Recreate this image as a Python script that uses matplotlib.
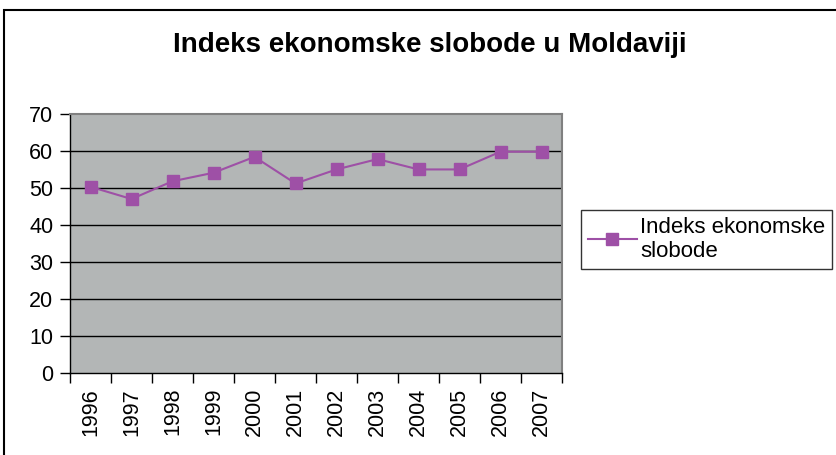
import matplotlib
matplotlib.use('Agg')
import matplotlib.pyplot as plt
from matplotlib.patches import Rectangle
import numpy as np

# ---------------- DATA ----------------
YEARS = ['1996', '1997', '1998', '1999', '2000', '2001',
         '2002', '2003', '2004', '2005', '2006', '2007']
INDEX = [50.3, 47.0, 51.8, 54.1, 58.4, 51.2, 55.0, 57.8, 55.0, 55.0, 59.8, 59.8]
TITLE = 'Indeks ekonomske slobode u Moldaviji'
LEGEND_LABEL = 'Indeks ekonomske\nslobode'

W, H = 836, 455
plt.rcParams['font.family'] = ['Liberation Sans', 'DejaVu Sans']
fig = plt.figure(figsize=(W / 100, H / 100), dpi=100)

# outer chart frame (cut off at right and bottom)
fig.patches.append(Rectangle((4 / W, -0.1), 1.2, 1 - 10 / H + 0.1, transform=fig.transFigure,
                             fill=False, edgecolor='black', linewidth=1.5, clip_on=False))

ax = fig.add_axes([70 / W, 1 - 372.7 / H, (562 - 70) / W, (372.7 - 114) / H])
ax.set_facecolor('#b3b6b6')
x = np.arange(len(YEARS))

ax.set_ylim(0, 70)
ax.set_xlim(-0.5, len(YEARS) - 0.5)
ax.set_yticks(np.arange(0, 71, 10))
ax.tick_params(axis='y', labelsize=15.5, length=7, width=1, direction='out', pad=5)
for yy in range(10, 70, 10):
    ax.axhline(yy, color='black', lw=1, zorder=1)

# ticks at category borders, labels centred
ax.set_xticks(np.arange(-0.5, len(YEARS), 1))
ax.set_xticklabels([])
ax.tick_params(axis='x', which='major', length=7, width=1, direction='out')
ax.set_xticks(x, minor=True)
ax.set_xticklabels(YEARS, minor=True, rotation=90, fontsize=15.5)
ax.tick_params(axis='x', which='minor', length=0, pad=11)

for s in ['top', 'right']:
    ax.spines[s].set_color('#808080')
    ax.spines[s].set_linewidth(1.5)
for s in ['left', 'bottom']:
    ax.spines[s].set_color('black')
    ax.spines[s].set_linewidth(1)

ax.plot(x, INDEX, color='#9e50a6', lw=1.5, marker='s', markersize=8,
        markeredgecolor='#9e50a6', label=LEGEND_LABEL, zorder=3)

fig.text(430 / W, 1 - 45 / H, TITLE, ha='center', va='center',
         fontsize=20, fontweight='bold')

leg = fig.legend(loc='upper left', bbox_to_anchor=(581 / W, 1 - 210 / H),
                 fontsize=16, frameon=True, fancybox=False, handlelength=2.2,
                 borderpad=0.3, handletextpad=0.15, borderaxespad=0,
                 labelspacing=0.2)
leg.get_frame().set_edgecolor('black')
leg.get_frame().set_linewidth(1)
for t in leg.get_texts():
    t.set_linespacing(1.2)

plt.savefig('out.png', dpi=100)
